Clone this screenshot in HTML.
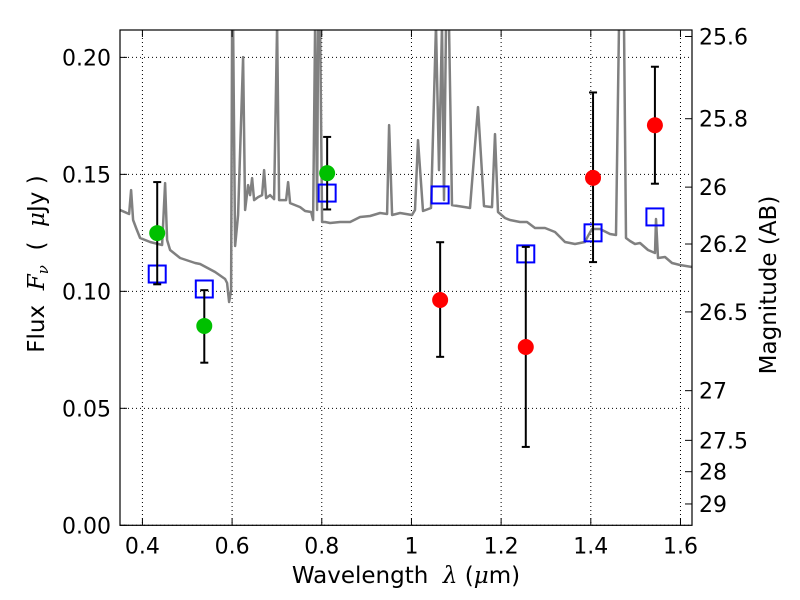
<!DOCTYPE html>
<html><head><meta charset="utf-8"><style>
body{margin:0;background:#fff;}
svg{display:block;font-family:"DejaVu Sans","Liberation Sans",sans-serif;}
</style></head><body>
<svg id="chart" width="800" height="600" viewBox="0 0 800 600">
<rect width="800" height="600" fill="#fff"/>
<g id="grid"></g>
<g id="spec"></g>
<g id="marks"></g>
<g id="axes"></g>
</svg>
<script>
const xTicks=[0.4,0.6,0.8,1.0,1.2,1.4,1.6];
const xTickLabels=["0.4","0.6","0.8","1","1.2","1.4","1.6"];
const yTicks=[0,0.05,0.10,0.15,0.20];
const yTickLabels=["0.00","0.05","0.10","0.15","0.20"];
const magTicks=[25.6,25.8,26,26.2,26.5,27,27.5,28,29];
const magLabels=["25.6","25.8","26","26.2","26.5","27","27.5","28","29"];
const greenWave=[0.433,0.538,0.812];
const greenFlux=[0.1249,0.0852,0.1505];
const greenHi=[0.1467,0.1005,0.166];
const greenLo=[0.103,0.0695,0.135];
const redWave=[1.064,1.255,1.405,1.543];
const redFlux=[0.0963,0.0762,0.1485,0.171];
const redHi=[0.121,0.119,0.185,0.196];
const redLo=[0.072,0.0335,0.1125,0.146];
const modelWave=[0.433,0.538,0.812,1.064,1.255,1.405,1.543];
const modelFlux=[0.1074,0.101,0.142,0.1412,0.116,0.125,0.1318];
const specPx=[[120,210],[129,214],[131,190],[133,220],[136,228],[140,238],[150,242],[162,245],[165,183],[167,240],[170,250],[180,258],[195,263],[200,264],[215,272],[225,279],[227,283],[229,302],[231,290],[232,20],[233,20],[235,246],[238,215],[243,57],[245,210],[248,185],[250,195],[252,178],[254,200],[258,197],[262,195],[264,170],[266,198],[270,195],[274,199],[277,20],[279,200],[286,200],[288,182],[290,203],[300,207],[305,211],[311,212],[313,220],[315,20],[317,210],[318,20],[320,20],[322,222],[325,222],[330,223],[340,222],[350,222],[360,217],[370,216],[380,213],[387,214],[389,125],[392,215],[400,213],[412,215],[415,210],[418,140],[423,211],[431,208],[436,20],[439,170],[442,20],[444,200],[446,20],[449,20],[452,205],[465,207],[470,208],[478,107],[484,206],[492,207],[495,134],[498,212],[505,218],[510,220],[520,222],[527,222],[535,228],[545,228],[555,232],[565,242],[575,244],[585,242],[588,236],[592,229],[600,229],[610,234],[616,235],[619,20],[624,20],[626,238],[630,241],[635,244],[640,243],[648,250],[655,253],[656,219],[658,258],[665,257],[672,263],[680,265],[692,267]];
const specWave=specPx.map(p=>0.4+(p[0]-142.3)/448.5);
const specFlux=specPx.map(p=>(525.3-p[1])/2340);

const L=120,R=692,T=30,B=525.3;
const X0=0.350,X1=1.6257,Y0=0,Y1=0.2117;
const sx=v=>L+(v-X0)/(X1-X0)*(R-L);
const sy=v=>B-(v-Y0)/(Y1-Y0)*(B-T);
const mag2flux=m=>Math.pow(10,(23.9-m)/2.5);
const NS="http://www.w3.org/2000/svg";
function mk(tag,attrs,parent){const e=document.createElementNS(NS,tag);for(const k in attrs)e.setAttribute(k,attrs[k]);parent.appendChild(e);return e;}
const grid=document.getElementById('grid'),spec=document.getElementById('spec'),marks=document.getElementById('marks'),axes=document.getElementById('axes');

xTicks.forEach(t=>{const l=mk('line',{x1:sx(t),x2:sx(t),y1:T,y2:B,stroke:'#000','stroke-width':1,'stroke-dasharray':'1,3'},grid);

});
yTicks.forEach(t=>{const l=mk('line',{x1:L,x2:R,y1:sy(t),y2:sy(t),stroke:'#000','stroke-width':1,'stroke-dasharray':'1,3'},grid);

});

const defs=mk('defs',{},document.getElementById('chart'));
const cp=mk('clipPath',{id:'clip'},defs);mk('rect',{x:L,y:T,width:R-L,height:B-T},cp);
const pts=specWave.map((w,i)=>sx(w).toFixed(1)+','+Math.max(T-5,sy(specFlux[i])).toFixed(1)).join(' ');
const pl=mk('polyline',{points:pts,fill:'none',stroke:'#808080','stroke-width':2.5,'stroke-linejoin':'round','clip-path':'url(#clip)'},spec);



function errbar(w,lo,hi){const x=sx(w);
const g=mk('g',{stroke:'#000','stroke-width':2},marks);


mk('line',{x1:x,x2:x,y1:sy(lo),y2:sy(hi)},g);
mk('line',{x1:x-4,x2:x+4,y1:sy(lo),y2:sy(lo)},g);
mk('line',{x1:x-4,x2:x+4,y1:sy(hi),y2:sy(hi)},g);}
modelWave.forEach((w,i)=>{const r=mk('rect',{x:sx(w)-8.5,y:sy(modelFlux[i])-8.5,width:17,height:17,fill:'none',stroke:'#0000ff','stroke-width':2},marks);

});
greenWave.forEach((w,i)=>{errbar(w,greenLo[i],greenHi[i]);const c=mk('circle',{cx:sx(w),cy:sy(greenFlux[i]),r:8,fill:'#00c000'},marks);

});
redWave.forEach((w,i)=>{errbar(w,redLo[i],redHi[i]);const c=mk('circle',{cx:sx(w),cy:sy(redFlux[i]),r:8,fill:'#ff0000'},marks);

});

const fr=mk('rect',{x:L,y:T,width:R-L,height:B-T,fill:'none',stroke:'#000','stroke-width':1.2},axes);


xTicks.forEach((t,i)=>{mk('line',{x1:sx(t),x2:sx(t),y1:B,y2:B-7,stroke:'#000'},axes);mk('line',{x1:sx(t),x2:sx(t),y1:T,y2:T+7,stroke:'#000'},axes);
const tx=mk('text',{x:sx(t),y:B+28,'font-size':22,'text-anchor':'middle'},axes);tx.textContent=xTickLabels[i];

});
yTicks.forEach((t,i)=>{mk('line',{x1:L,x2:L+7,y1:sy(t),y2:sy(t),stroke:'#000'},axes);
const tx=mk('text',{x:L-9,y:sy(t)+8,'font-size':22,'text-anchor':'end'},axes);tx.textContent=yTickLabels[i];

});
magTicks.forEach((m,i)=>{const y=sy(mag2flux(m));mk('line',{x1:R,x2:R-7,y1:y,y2:y,stroke:'#000'},axes);
const tx=mk('text',{x:R+7,y:y+8,'font-size':22},axes);tx.textContent=magLabels[i];

});
</script>
<svg style="position:absolute;left:0;top:0" width="800" height="600">
<text x="406" y="583" font-size="23" text-anchor="middle" font-family="DejaVu Sans, sans-serif">Wavelength&#160;&#160;<tspan font-family="DejaVu Serif, serif" font-style="italic">λ</tspan> (<tspan font-family="DejaVu Serif, serif" font-style="italic">μ</tspan>m)</text>
<text transform="translate(44,264) rotate(-90)" font-size="23" text-anchor="middle" font-family="DejaVu Sans, sans-serif">Flux&#160;&#160;<tspan font-family="DejaVu Serif, serif" font-style="italic">F<tspan font-size="15" dy="4">ν</tspan></tspan><tspan dy="-4">&#160;&#160;(&#160;&#160;</tspan><tspan font-family="DejaVu Serif, serif" font-style="italic">μ</tspan>Jy )</text>
<text transform="translate(776,285) rotate(-90)" font-size="23" text-anchor="middle" font-family="DejaVu Sans, sans-serif">Magnitude (AB)</text>
</svg>
</body></html>
